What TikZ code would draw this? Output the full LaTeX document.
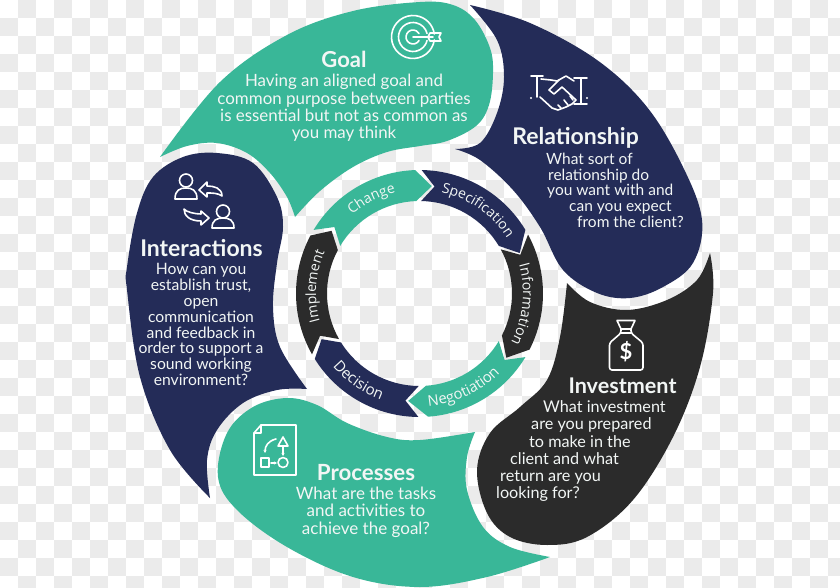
\documentclass[tikz,border=0pt]{standalone}
\usepackage{fontspec}
\setmainfont{Lato}
\newfontfamily\ringfont{Open Sans}
\usetikzlibrary{decorations.text,arrows.meta}
\definecolor{chk}{HTML}{EBEBEB}
\definecolor{grn}{HTML}{39B798}
\definecolor{nvy}{HTML}{242C58}
\definecolor{drk}{HTML}{2B2B2B}
\definecolor{txt}{HTML}{F2F6F5}
\newcommand{\ringseg}[5]{\fill[#1] (#2:123.5) arc[start angle={-#2},end angle={-#4},radius=123.5pt] -- (#5:108) -- (#4:92.5) arc[start angle={-#4},end angle={-#2},radius=92.5pt] -- (#3:108) -- cycle;}
\newcommand{\ringlabel}[5]{\path[decorate,decoration={text along path,text={|\fontsize{#5}{#5}\selectfont\ringfont\color{txt}|#1},text align=center}] (#2:#4) arc[start angle={-#2},end angle={-#3},radius=#4 pt];}
\tikzset{
  titletext/.style={text=txt,font=\fontsize{23}{25}\selectfont\bfseries,inner sep=0pt},
  bodytext/.style={text=txt,align=center,inner sep=0pt},
  bodyleft/.style={text=txt,align=left,inner sep=0pt,anchor=north west},
  icon/.style={draw=white,line width=1.6pt,line cap=round,line join=round}
}
\begin{document}
\begin{tikzpicture}[x=1pt,y=-1pt]
\useasboundingbox (0,0) rectangle (840,588);
\fill[white] (0,0) rectangle (840,588);
\foreach \i in {0,...,46}{\foreach \j in {0,...,32}{%
  \ifodd\numexpr\i+\j\relax \fill[chk] (18*\i,18*\j) rectangle ++(18,18);\fi}}
% Goal
\fill[grn] plot[smooth,tension=0.6] coordinates {(160,157) (220,82) (287,35) (353,11) (420,2) (453,5) (475,20) (490,48) (493,73) (489,105) (476,126) (447,141) (420,146) (387,152) (353,167) (320,191) (295,217)}
  -- plot[smooth,tension=0.6] coordinates {(295,217) (287,197) (270,173) (247,153) (217,143) (187,146) (160,157)} -- cycle;
% Relationship
\fill[nvy] plot[smooth,tension=0.6] coordinates {(470,5) (530,23) (597,60) (647,107) (683,167) (702,220) (693,263) (663,287) (630,298) (597,293) (563,270) (540,227) (513,190) (480,160) (455,149)}
  -- plot[smooth,tension=0.6] coordinates {(455,149) (480,143) (497,113) (504,77) (497,40) (470,5)} -- cycle;
% Investment
\fill[drk] plot[smooth,tension=0.6] coordinates {(710,253) (713,293) (700,367) (673,437) (633,500) (587,537) (547,545) (510,537) (487,513) (477,470) (490,433) (520,407) (547,380) (560,337) (567,283)}
  -- plot[smooth,tension=0.6] coordinates {(567,283) (590,302) (627,310) (667,300) (697,280) (710,253)} -- cycle;
% Processes
\fill[grn] plot[smooth,tension=0.6] coordinates {(475,432) (467,457) (467,490) (483,527) (510,547) (550,557)}
  -- plot[smooth,tension=0.6] coordinates {(550,557) (487,577) (420,587) (353,577) (287,547) (237,510) (218,477) (227,433) (253,407) (287,398) (317,405) (347,423) (387,437) (420,440) (475,432)} -- cycle;
% Interactions
\fill[nvy] plot[smooth,tension=0.6] coordinates {(307,389) (277,390) (243,403) (217,430) (207,460) (210,498)}
  -- plot[smooth,tension=0.6] coordinates {(210,498) (170,450) (140,377) (127,290) (127,267) (137,213) (153,177) (183,157) (217,153) (253,163) (277,197) (283,227) (277,263) (273,307) (280,347) (307,389)} -- cycle;
% Ring
\begin{scope}[shift={(419.5,293.5)}]
\ringseg{grn}{211}{218}{268}{276.5}
\ringseg{nvy}{271}{278}{329}{338}
\ringseg{drk}{331.5}{339}{387}{396.5}
\ringseg{grn}{31}{38}{86}{96}
\ringseg{nvy}{90.5}{97.5}{148}{155}
\ringseg{drk}{150.5}{157}{208}{215.5}
\ringlabel{Change}{213}{273}{103.5}{14}
\ringlabel{Specification}{275}{335}{103.5}{14}
\ringlabel{Information}{336}{396}{103.5}{14.3}
\ringlabel{Negotiation}{95}{35}{113}{14.8}
\ringlabel{Decision}{155}{95}{113}{15}
\ringlabel{Implement}{155}{213}{103.5}{14}
\end{scope}
% Texts
\node[titletext,font=\fontsize{22}{25}\selectfont\bfseries] (goalT) at (344,59) {Goal};
\node[bodytext,font=\fontsize{16.9}{17.3}\selectfont] (goalB) at (344,108) {Having an aligned goal and\\common purpose between parties\\is essential but not as common as\\you may think};
\node[titletext] (relT) at (575.5,138) {Relationship};
\node[bodyleft,font=\fontsize{15.5}{15.9}\selectfont] (relB) at (546,152.5) {What sort of\\\hspace*{2pt}relationship do\\\hspace*{1pt}you want with and\\\hspace*{23pt}can you expect\\\hspace*{31pt}from the client?};
\node[titletext,font=\fontsize{21.6}{25}\selectfont\bfseries] (invT) at (622.5,385.5) {Investment};
\node[bodyleft,font=\fontsize{16.2}{17.2}\selectfont] (invB) at (496,400.5) {\hspace*{47pt}What investment\\\hspace*{35pt}are you prepared\\\hspace*{33pt}to make in the\\\hspace*{14pt}client and what\\\hspace*{4pt}return are you\\looking for?};
\node[titletext,font=\fontsize{22.3}{25}\selectfont\bfseries] (proT) at (366,472.5) {Processes};
\node[bodytext,font=\fontsize{17}{17.3}\selectfont] (proB) at (366,512) {What are the tasks\\and activities to\\achieve the goal?};
\node[titletext] (intT) at (201.5,248.5) {Interactions};
\node[bodytext,font=\fontsize{15.7}{15.9}\selectfont] (intB) at (201,324.5) {How can you\\establish trust,\\open\\communication\\and feedback in\\order to support a\\sound working\\environment?};
% Target icon
\begin{scope}[shift={(413,37)}]
\draw[icon] (8:21.5) arc[start angle=-8,end angle=-352,radius=21.5pt];
\draw[icon] (14:14.5) arc[start angle=-14,end angle=-346,radius=14.5pt];
\draw[icon] (30:7) arc[start angle=-30,end angle=-330,radius=7pt];
\draw[icon] (0,0) -- (20,0);
\draw[icon] (17,-4) -- (28,-4) -- (26,0) -- (28,4) -- (17,4) -- (15,0) -- cycle;
\end{scope}
% Handshake icon
\draw[icon] (531,76) -- (543,76) (537,76) -- (537,97) (574,78) -- (587,78) (581,78) -- (581,104) (574,104) -- (587,104);
\fill[white] (531,98) circle (1.2) (587,98) circle (1.2);
\draw[icon] (541,79) -- (551,80) -- (557,81) -- (566,76) -- (574,81);
\draw[icon] (559,80) -- (553,86) -- (549,90) -- (554,94) -- (562,87) -- (576,100) -- (572,104) -- (566,107) -- (558,110) -- (552,108) -- (540,97);
\draw[icon] (558,105) -- (561,108) (564,100) -- (568,105) (570,96) -- (573,100);
% Interactions icon
\draw[icon] (186,180.5) circle (6.5);
\draw[icon] (175,199) .. controls (175,190) and (180,188) .. (186,188) .. controls (192,188) and (197,190) .. (197,199) -- cycle;
\draw[icon] (199,190) -- (207,182) -- (207,186) .. controls (214,186) and (222,188) .. (222,196) .. controls (218,193) and (212,193) .. (207,193) -- (207,197) -- cycle;
\draw[icon] (223,211.5) circle (6.5);
\draw[icon] (212,228) .. controls (212,220) and (217,218) .. (223,218) .. controls (229,218) and (234,220) .. (234,228) -- cycle;
\draw[icon] (209,218) -- (201,211) -- (201,214) .. controls (195,214) and (186,212) .. (184,209) .. controls (184,216) and (190,221) .. (201,221) -- (201,225) -- cycle;
% Money bag icon
\draw[icon] (617,320.5) -- (635,320.5) -- (631,329) -- (621,329) -- cycle;
\draw[icon,rounded corners=2.5pt] (621,329) -- (621,333) -- (609.5,343) -- (609.5,370) -- (643,370) -- (643,343) -- (631,333) -- (631,329);
\draw[icon] (621,333) -- (631,333);
\node[text=white,font=\fontsize{22}{22}\selectfont\bfseries,inner sep=0pt] (bagS) at (626,352) {\$};
% Process icon
\draw[icon] (261,425) -- (296,425) -- (296,475) -- (254,475) -- (254,433) -- cycle;
\draw[icon] (261,425) -- (261,433) -- (254,433);
\draw[icon] (283,437) -- (278,446) -- (288,446) -- cycle;
\draw[icon,-{Stealth[length=3pt,width=3pt]}] (283,447) -- (283,456);
\draw[icon,-{Stealth[length=3pt,width=3pt]}] (276,439) .. controls (268,441) and (265,446) .. (265,453);
\draw[icon] (261,458) rectangle (269,467);
\draw[icon] (283,462.5) circle (5);
\draw[icon,-{Stealth[length=3pt,width=3pt]}] (271,463) -- (277,463);
\end{tikzpicture}
\end{document}
